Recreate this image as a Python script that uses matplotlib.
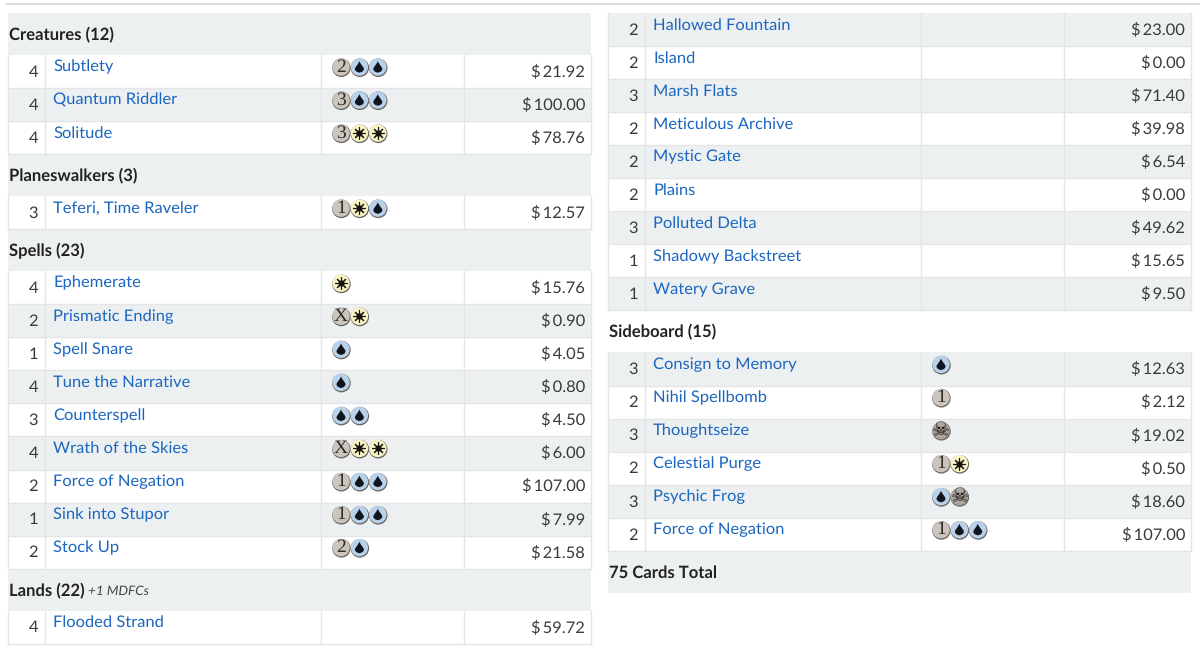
import matplotlib
matplotlib.use("Agg")
import matplotlib.pyplot as plt
from matplotlib.patches import Rectangle, Circle, PathPatch
from matplotlib.path import Path
import numpy as np

plt.rcParams['font.family'] = ['Lato', 'DejaVu Sans']
plt.rcParams['text.hinting'] = 'no_hinting'

# left table, top to bottom
creatures = ["Subtlety", "Quantum Riddler", "Solitude"]
creatures_qty = [4, 4, 4]
creatures_cost = ["2UU", "3UU", "3WW"]
creatures_price = ["21.92", "100.00", "78.76"]

walkers = ["Teferi, Time Raveler"]
walkers_qty = [3]
walkers_cost = ["1WU"]
walkers_price = ["12.57"]

spells = ["Ephemerate", "Prismatic Ending", "Spell Snare", "Tune the Narrative", "Counterspell",
          "Wrath of the Skies", "Force of Negation", "Sink into Stupor", "Stock Up"]
spells_qty = [4, 2, 1, 4, 3, 4, 2, 1, 2]
spells_cost = ["W", "XW", "U", "U", "UU", "XWW", "1UU", "1UU", "2U"]
spells_price = ["15.76", "0.90", "4.05", "0.80", "4.50", "6.00", "107.00", "7.99", "21.58"]

lands_left = ["Flooded Strand"]
lands_left_qty = [4]
lands_left_cost = [""]
lands_left_price = ["59.72"]

# right table
lands_right = ["Hallowed Fountain", "Island", "Marsh Flats", "Meticulous Archive", "Mystic Gate",
               "Plains", "Polluted Delta", "Shadowy Backstreet", "Watery Grave"]
lands_right_qty = [2, 2, 3, 2, 2, 2, 3, 1, 1]
lands_right_cost = [""] * 9
lands_right_price = ["23.00", "0.00", "71.40", "39.98", "6.54", "0.00", "49.62", "15.65", "9.50"]

sideboard = ["Consign to Memory", "Nihil Spellbomb", "Thoughtseize", "Celestial Purge",
             "Psychic Frog", "Force of Negation"]
sideboard_qty = [3, 2, 3, 2, 3, 2]
sideboard_cost = ["U", "1", "B", "1W", "UB", "1UU"]
sideboard_price = ["12.63", "2.12", "19.02", "0.50", "18.60", "107.00"]

GRAY = "#edf0f1"
LINE = "#e3e5e6"
BLUE = "#1b66c0"
DARK = "#2b2b2b"
ROW_H = 33.05
HEAD_H = 42
FS = 11.85

fig = plt.figure(figsize=(12, 6.48), dpi=100)
ax = fig.add_axes([0, 0, 1, 1])
ax.set_xlim(0, 1200)
ax.set_ylim(648, 0)
ax.axis("off")

ax.plot([7, 1200], [3.5, 3.5], color="#dcdcdc", lw=1.5)


def draw_drop(x, y):
    s = 5.6
    verts = [(x, y - s * 1.05), (x + s * 0.3, y - s * 0.3), (x + s * 0.85, y + s * 0.05), (x + s * 0.8, y + s * 0.4),
             (x + s * 0.7, y + s * 0.95), (x, y + s), (x, y + s),
             (x, y + s), (x - s * 0.7, y + s * 0.95), (x - s * 0.8, y + s * 0.4),
             (x - s * 0.85, y + s * 0.05), (x - s * 0.3, y - s * 0.3), (x, y - s * 1.05)]
    codes = [Path.MOVETO] + [Path.CURVE4] * 12
    ax.add_patch(PathPatch(Path(verts, codes), fc="#10141c", ec="none", zorder=5))


def draw_symbol(sym, x, y):
    fill = {"U": "#b9d2ea", "W": "#f7f3c6", "B": "#aca5a0"}.get(sym, "#cbc5be")
    ax.add_patch(Circle((x + 0.4, y + 0.7), 9.3, fc="#6a655f", ec="none", zorder=3))
    ax.add_patch(Circle((x, y), 8.7, fc=fill, ec="none", zorder=4))
    if sym == "U":
        draw_drop(x, y)
    elif sym == "W":
        ax.plot([x], [y], marker=(8, 2, 0), ms=9, color="#15130c", mew=0.8, zorder=5)
        ax.plot([x], [y], marker="o", ms=4.5, color="#15130c", mew=0, zorder=5)
    elif sym == "B":
        ax.text(x, y, "\u2620", fontsize=14.5, family="DejaVu Sans", color="#14100e",
                ha="center", va="center", zorder=5, fontweight="bold")
    else:
        ax.text(x, y + 0.2, sym, fontsize=14, family="Liberation Serif", color="#2e2a28",
                ha="center", va="center", zorder=5)


def draw_header(x0, x1, y, label, shaded, extra=None):
    if shaded:
        ax.add_patch(Rectangle((x0, y), x1 - x0, HEAD_H, fc=GRAY, ec="none", zorder=0))
    t = ax.text(x0 + 1, y + 22, label, fontsize=12, fontweight="bold", color="#222222",
                va="center", ha="left")
    if extra:
        fig.canvas.draw()
        bb = t.get_window_extent()
        ax.text(bb.x1 + 3, y + 23, extra, fontsize=9.7, style="italic", color="#444444",
                va="center", ha="left")
    return y + HEAD_H


def draw_rows(x0, x1, y, names, qty, cost, price, first_shaded=False):
    col1, col2, col3 = x0 + 37, x0 + 313, x0 + 456
    top = y
    for i in range(len(names)):
        if (i % 2 == 1) != first_shaded:
            ax.add_patch(Rectangle((x0, y), x1 - x0, ROW_H, fc=GRAY, ec="none", zorder=0))
        ax.text(col1 - 7, y + 17.3, str(qty[i]), fontsize=FS, color="#3a3a3a", ha="right", va="center")
        ax.text(col1 + 8, y + 12, names[i], fontsize=FS, color=BLUE, ha="left", va="center")
        ax.text(x1 - 6, y + 17.3, "$\u2009" + price[i], fontsize=FS, color="#3a3a3a", ha="right", va="center")
        for j, sym in enumerate(cost[i]):
            draw_symbol(sym, col2 + 20 + j * 18.4, y + 12)
        ax.plot([x0, x1], [y + ROW_H, y + ROW_H], color=LINE, lw=1, zorder=1)
        y += ROW_H
    for xv in (x0, col1, col2, col3, x1):
        ax.plot([xv, xv], [top, y], color=LINE, lw=1, zorder=1)
    return y


# left column
x0, x1 = 8, 591
y = 13
y = draw_header(x0, x1, y, "Creatures (12)", True)
y = draw_rows(x0, x1, y, creatures, creatures_qty, creatures_cost, creatures_price)
y = draw_header(x0, x1, y, "Planeswalkers (3)", True)
y = draw_rows(x0, x1, y, walkers, walkers_qty, walkers_cost, walkers_price)
y = draw_header(x0, x1, y, "Spells (23)", True)
y = draw_rows(x0, x1, y, spells, spells_qty, spells_cost, spells_price)
y = draw_header(x0, x1, y, "Lands (22)", True, extra="+1 MDFCs")
y = draw_rows(x0, x1, y, lands_left, lands_left_qty, lands_left_cost, lands_left_price)

# right column
x0, x1 = 608, 1191
y = 13
y = draw_rows(x0, x1, y, lands_right, lands_right_qty, lands_right_cost, lands_right_price, first_shaded=True)
y = draw_header(x0, x1, y, "Sideboard (15)", False)
y = draw_rows(x0, x1, y, sideboard, sideboard_qty, sideboard_cost, sideboard_price, first_shaded=True)
y = draw_header(x0, x1, y, "75 Cards Total", True)

fig.savefig("out.png", dpi=100)
